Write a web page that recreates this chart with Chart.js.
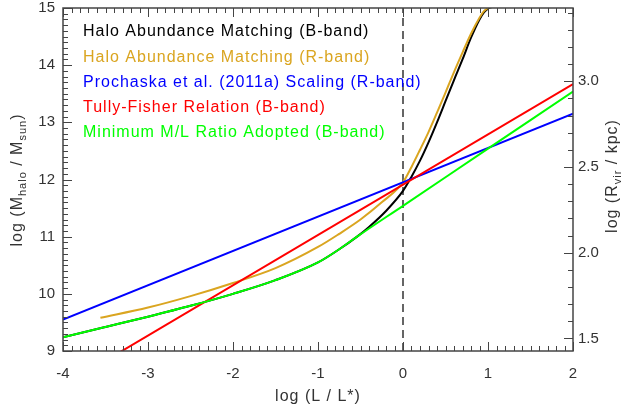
<!DOCTYPE html>
<html>
<head>
<meta charset="utf-8">
<script src="https://cdn.jsdelivr.net/npm/chart.js@4/dist/chart.umd.min.js"></script>
<style>
  html, body { margin: 0; padding: 0; background: #fff; }
  #wrap { width: 630px; height: 404px; }
</style>
</head>
<body>
<div id="wrap"><canvas id="haloChart" width="630" height="404"></canvas></div>
<script>
// Tick values and labels
const xTicks = [-4, -3, -2, -1, 0, 1, 2];
const xTickLabels = ['-4', '-3', '-2', '-1', '0', '1', '2'];
const yTicks = [9, 10, 11, 12, 13, 14, 15];
const yTickLabels = ['9', '10', '11', '12', '13', '14', '15'];
const rTicks = [1.5, 2.0, 2.5, 3.0];
const rTickLabels = ['1.5', '2.0', '2.5', '3.0'];

// Halo abundance matching (B-band)
const lumHamB = [-4, -3.5, -3, -2.5, -2, -1.5, -1, -0.75, -0.54, -0.4, -0.2, 0, 0.1, 0.2, 0.3, 0.4, 0.5, 0.6, 0.7, 0.8, 0.9, 0.95, 1.0, 1.05];
const massHamB = [9.24, 9.42, 9.6, 9.79, 10.0, 10.24, 10.55, 10.78, 11.0, 11.17, 11.45, 11.8, 12.05, 12.33, 12.65, 13.0, 13.37, 13.74, 14.1, 14.48, 14.8, 14.92, 14.99, 15.02];

// Halo abundance matching (R-band)
const lumHamR = [-3.56, -3, -2.5, -2, -1.5, -1, -0.75, -0.5, -0.25, 0, 0.1, 0.2, 0.3, 0.4, 0.5, 0.6, 0.7, 0.8, 0.9, 0.95, 1.0];
const massHamR = [9.58, 9.76, 9.96, 10.19, 10.45, 10.82, 11.05, 11.3, 11.6, 11.95, 12.22, 12.52, 12.83, 13.17, 13.52, 13.88, 14.22, 14.55, 14.83, 14.94, 15.0];

// Prochaska et al. scaling
const lumPro = [-4, 2];
const massPro = [9.55, 13.15];

// Tully-Fisher
const lumTF = [-4, 2];
const massTF = [8.39, 13.67];

// Minimum M/L ratio adopted
const lumMin = [-4, -3.5, -3, -2.5, -2, -1.5, -1, -0.75, -0.54, 0, 1, 2];
const massMin = [9.24, 9.42, 9.6, 9.79, 10.0, 10.24, 10.55, 10.78, 11.0, 11.54, 12.54, 13.54];

// L = L* reference line
const refLum = [0, 0];
const refMass = [9, 15];

const rOffset = -1.573; // log Rvir = log M / 3 + offset

const toPts = (xs, ys) => xs.map((v, i) => ({ x: v, y: ys[i] }));
const FONT = '"Liberation Sans", Helvetica, Arial, sans-serif';

Chart.defaults.font.family = FONT;
Chart.defaults.color = '#333';

function curve(label, xs, ys, color, order) {
    return {
        label: label,
        data: toPts(xs, ys),
        borderColor: color,
        backgroundColor: color,
        borderWidth: 2,
        pointRadius: 0,
        showLine: true,
        cubicInterpolationMode: 'monotone',
        clip: 0,
        order: order
    };
}

function drawRich(ctx, parts, cx, cy, size) {
    const subSize = Math.round(size * 0.68);
    let w = 0;
    parts.forEach(p => {
        ctx.font = (p.sub ? subSize : size) + 'px ' + FONT;
        p.w = ctx.measureText(p.t).width;
        w += p.w;
    });
    let x = cx - w / 2;
    parts.forEach(p => {
        ctx.font = (p.sub ? subSize : size) + 'px ' + FONT;
        ctx.fillText(p.t, x, p.sub ? cy + size * 0.3 : cy);
        x += p.w;
    });
}

const extras = {
    id: 'extras',
    afterDraw(chart) {
        const ctx = chart.ctx;
        const { left, right, top, bottom } = chart.chartArea;
        const xs = chart.scales.x, ys = chart.scales.y, rs = chart.scales.y2;
        ctx.save();
        ctx.strokeStyle = '#444';
        ctx.lineWidth = 1;
        // x ticks (bottom and top)
        for (let i = 0; i <= 60; i++) {
            const px = Math.round(xs.getPixelForValue(-4 + i / 10)) + 0.5;
            const len = i % 10 === 0 ? 9 : 5;
            ctx.beginPath();
            ctx.moveTo(px, bottom); ctx.lineTo(px, bottom - len);
            ctx.moveTo(px, top); ctx.lineTo(px, top + len);
            ctx.stroke();
        }
        // left y ticks
        for (let i = 0; i <= 60; i++) {
            const py = Math.round(ys.getPixelForValue(9 + i / 10)) + 0.5;
            const len = i % 10 === 0 ? 9 : 5;
            ctx.beginPath();
            ctx.moveTo(left, py); ctx.lineTo(left + len, py);
            ctx.stroke();
        }
        // right y ticks
        for (let i = 15; i <= 34; i++) {
            const py = Math.round(rs.getPixelForValue(i / 10)) + 0.5;
            const len = i % 5 === 0 ? 9 : 5;
            ctx.beginPath();
            ctx.moveTo(right, py); ctx.lineTo(right - len, py);
            ctx.stroke();
        }
        // frame
        ctx.lineWidth = 1.5;
        ctx.strokeRect(left, top, right - left, bottom - top);

        // legend
        ctx.textBaseline = 'middle';
        ctx.textAlign = 'left';
        ctx.font = '16px ' + FONT;
        ctx.letterSpacing = '1px';
        let ly = 32;
        chart.data.datasets.forEach(ds => {
            if (!ds.label) return;
            ctx.fillStyle = ds.borderColor;
            ctx.fillText(ds.label, 83, ly);
            ly += 25.2;
        });

        // axis titles
        ctx.fillStyle = '#333';
        drawRich(ctx, [{ t: 'log (L / L*)' }], (left + right) / 2, 397, 16);

        ctx.save();
        ctx.translate(18, 180);
        ctx.rotate(-Math.PI / 2);
        drawRich(ctx, [{ t: 'log (M' }, { t: 'halo', sub: true }, { t: ' / M' }, { t: 'sun', sub: true }, { t: ')' }], 0, 0, 16);
        ctx.restore();

        ctx.save();
        ctx.translate(613, 176);
        ctx.rotate(-Math.PI / 2);
        drawRich(ctx, [{ t: 'log (R' }, { t: 'vir', sub: true }, { t: ' / kpc)' }], 0, 0, 16);
        ctx.restore();

        ctx.restore();
    }
};

const refLine = {
    label: '',
    data: toPts(refLum, refMass),
    borderColor: '#333',
    borderWidth: 1.5,
    borderDash: [8, 5],
    pointRadius: 0,
    showLine: true,
    clip: 0,
    order: 10
};

function noPad(s) {
    s.paddingTop = 0; s.paddingBottom = 0;
    s.paddingLeft = 0; s.paddingRight = 0;
}

new Chart(document.getElementById('haloChart'), {
    type: 'scatter',
    data: {
        datasets: [
            curve('Halo Abundance Matching (B-band)', lumHamB, massHamB, '#000000', 5),
            curve('Halo Abundance Matching (R-band)', lumHamR, massHamR, '#DAA520', 4),
            curve('Prochaska et al. (2011a) Scaling (R-band)', lumPro, massPro, '#0000FF', 3),
            curve('Tully-Fisher Relation (B-band)', lumTF, massTF, '#FF0000', 2),
            curve('Minimum M/L Ratio Adopted (B-band)', lumMin, massMin, '#00FF00', 1),
            refLine
        ]
    },
    options: {
        responsive: false,
        animation: false,
        layout: { padding: { top: 8, left: 0, right: 0, bottom: 0 } },
        plugins: {
            legend: { display: false },
            tooltip: { enabled: false }
        },
        scales: {
            x: {
                type: 'linear',
                min: -4, max: 2,
                grid: { display: false, drawTicks: false },
                border: { display: false },
                afterFit: s => { s.height = 53; noPad(s); },
                afterBuildTicks: s => { s.ticks = xTicks.map(v => ({ value: v })); },
                ticks: {
                    padding: 14,
                    font: { size: 15 },
                    color: '#333',
                    maxRotation: 0,
                    callback: (v) => xTickLabels[xTicks.indexOf(v)]
                }
            },
            y: {
                type: 'linear',
                min: 9, max: 15,
                grid: { display: false, drawTicks: false },
                border: { display: false },
                afterFit: s => { s.width = 63; noPad(s); },
                afterBuildTicks: s => { s.ticks = yTicks.map(v => ({ value: v })); },
                ticks: {
                    padding: 8,
                    font: { size: 15 },
                    color: '#333',
                    callback: (v) => yTickLabels[yTicks.indexOf(v)]
                }
            },
            y2: {
                type: 'linear',
                position: 'right',
                min: 9 / 3 + rOffset, max: 15 / 3 + rOffset,
                grid: { display: false, drawTicks: false },
                border: { display: false },
                afterFit: s => { s.width = 57; noPad(s); },
                afterBuildTicks: s => { s.ticks = rTicks.map(v => ({ value: v })); },
                ticks: {
                    padding: 5,
                    font: { size: 15 },
                    color: '#333',
                    callback: (v) => rTickLabels[rTicks.indexOf(v)]
                }
            }
        }
    },
    plugins: [extras]
});
</script>
</body>
</html>
